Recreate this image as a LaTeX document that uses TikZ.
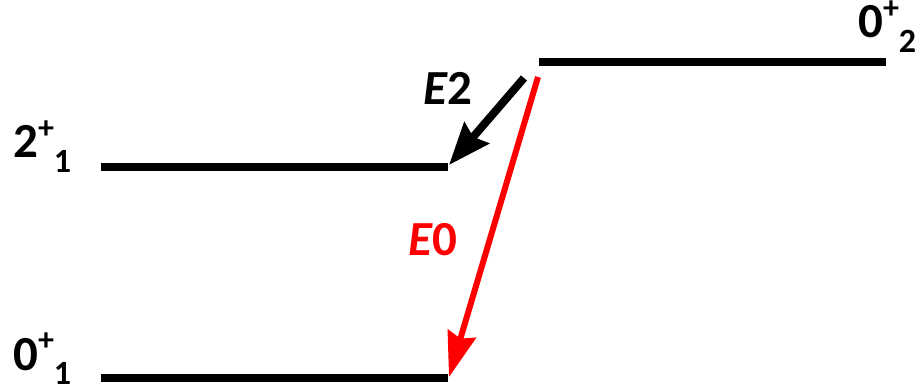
\documentclass[tikz,border=0pt]{standalone}
\usepackage{fontspec}
\setmainfont{Carlito}
\usetikzlibrary{arrows.meta}
\newcommand{\lvlab}[3]{#1\raisebox{0.40em}{\fontsize{32}{32}\selectfont #2}\raisebox{-0.30em}{\fontsize{34}{34}\selectfont #3}}
\begin{document}
\begin{tikzpicture}[x=1pt,y=-1pt,
  level/.style={line width=8pt},
  lab/.style={anchor=base west,inner sep=0pt,font=\fontsize{49}{49}\selectfont\bfseries},
  trans/.style={line width=8pt,-{Stealth[length=42pt,width=32pt,inset=5pt]}},
  transr/.style={red,line width=6pt,-{Stealth[length=45pt,width=29pt,inset=5pt]}}]
\useasboundingbox (0,0) rectangle (915,387);
% levels
\coordinate (a1) at (101,167); \coordinate (a2) at (448,167);
\coordinate (b1) at (101,378); \coordinate (b2) at (448,378);
\coordinate (c1) at (539,62);  \coordinate (c2) at (886,62);
\draw[level] (a1) -- (a2);
\draw[level] (b1) -- (b2);
\draw[level] (c1) -- (c2);
% labels
\node[lab] (l21) at (13,158) {\lvlab{2}{+}{1}};
\node[lab] (l01) at (13,370) {\lvlab{0}{+}{1}};
\node[lab] (l02) at (858,38) {\lvlab{0}{+}{2}};
% transitions
\coordinate (e2s) at (524,78);
\coordinate (e2t) at (449,165);
\coordinate (e0s) at (538,77);
\coordinate (e0t) at (449,377);
\draw[trans] (e2s) -- (e2t);
\draw[transr] (e0s) -- (e0t);
\node[lab] (e2l) at (423,105) {\itshape E\upshape 2};
\node[lab,text=red] (e0l) at (408,255) {\itshape E\upshape 0};
\end{tikzpicture}
\end{document}
